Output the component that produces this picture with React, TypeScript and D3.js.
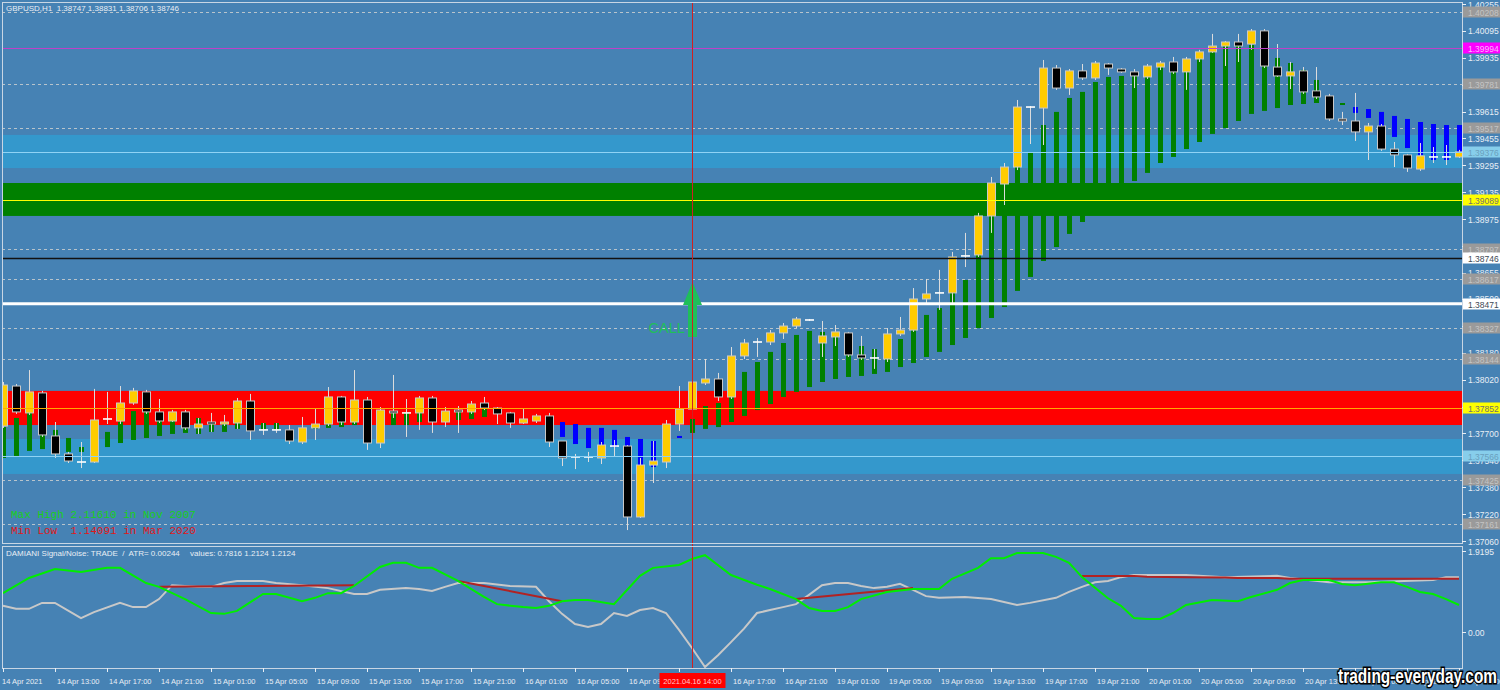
import React, { useEffect } from "react";
import * as d3 from "d3";

// ---------------- DATA ----------------
const open = [
  1.37744, 1.37982, 1.37822, 1.37941, 1.37685, 1.37578, 1.3753, 1.3753, 1.37786, 1.37774,
  1.37881, 1.37947, 1.37828, 1.37774, 1.37828, 1.37733, 1.37768, 1.37756, 1.37762, 1.37893,
  1.37721, 1.37721, 1.37721, 1.37649, 1.37733, 1.37756, 1.37917, 1.37768, 1.37899, 1.37643,
  1.37833, 1.37822, 1.37822, 1.37911, 1.37768, 1.37839, 1.37828, 1.37881, 1.37851, 1.37822,
  1.37762, 1.37774, 1.37804, 1.37655, 1.3756, 1.3756, 1.37554, 1.37625, 1.37625, 1.37203,
  1.37512, 1.3753, 1.37756, 1.37845, 1.38, 1.38024, 1.37917, 1.38161, 1.38244, 1.38244,
  1.38298, 1.38339, 1.38375, 1.38238, 1.38274, 1.38298, 1.38167, 1.38149, 1.38143, 1.38292,
  1.38315, 1.385, 1.38536, 1.38536, 1.38756, 1.38762, 1.38994, 1.39184, 1.39285, 1.39642,
  1.39636, 1.39874, 1.39755, 1.39857, 1.39815, 1.39898, 1.39868, 1.39851, 1.39821, 1.3988,
  1.3991, 1.39851, 1.39928, 1.3997, 1.40005, 1.40029, 1.40017, 1.40095, 1.3988, 1.39827,
  1.39857, 1.39738, 1.39708, 1.39571, 1.39559, 1.39494, 1.39529, 1.39392, 1.39357, 1.39273,
  1.39345, 1.39345, 1.39345,
];
const high = [
  1.38006, 1.37994, 1.38077, 1.37953, 1.37768, 1.3759, 1.37649, 1.37965, 1.37947, 1.37982,
  1.37971, 1.37959, 1.37905, 1.3784, 1.3784, 1.37792, 1.37822, 1.3781, 1.37911, 1.37935,
  1.37762, 1.37762, 1.3775, 1.37798, 1.37845, 1.37976, 1.37923, 1.38077, 1.37917, 1.37857,
  1.38048, 1.37905, 1.37923, 1.37923, 1.37857, 1.37863, 1.37893, 1.37917, 1.37857, 1.37828,
  1.37845, 1.37816, 1.37822, 1.37655, 1.37578, 1.3759, 1.37649, 1.37661, 1.37631, 1.37554,
  1.37655, 1.3778, 1.37982, 1.38018, 1.38143, 1.3806, 1.38214, 1.38262, 1.38268, 1.38315,
  1.38357, 1.38393, 1.38381, 1.38369, 1.38345, 1.38304, 1.3828, 1.38203, 1.38327, 1.38393,
  1.38565, 1.38619, 1.38673, 1.3878, 1.38893, 1.39012, 1.39226, 1.39309, 1.39684, 1.39648,
  1.39922, 1.39892, 1.39868, 1.39898, 1.39916, 1.39904, 1.39874, 1.39868, 1.39898, 1.39916,
  1.3994, 1.3994, 1.39982, 1.40077, 1.40035, 1.40077, 1.40106, 1.40106, 1.40017, 1.3991,
  1.3988, 1.3988, 1.3972, 1.39613, 1.39726, 1.39547, 1.39541, 1.39434, 1.39363, 1.39428,
  1.39404, 1.39416, 1.39387,
];
const low = [
  1.37733, 1.37816, 1.3781, 1.37679, 1.37554, 1.37524, 1.37494, 1.37524, 1.37756, 1.37756,
  1.3787, 1.37816, 1.37762, 1.37768, 1.37721, 1.37697, 1.37709, 1.37744, 1.37727, 1.37661,
  1.37691, 1.37703, 1.37637, 1.37637, 1.37661, 1.37744, 1.3775, 1.37756, 1.37602, 1.37613,
  1.37792, 1.37679, 1.37721, 1.37703, 1.37738, 1.37703, 1.37816, 1.37839, 1.37756, 1.37733,
  1.37756, 1.37762, 1.37619, 1.37506, 1.37488, 1.3753, 1.37518, 1.3756, 1.37125, 1.37197,
  1.37405, 1.37494, 1.37715, 1.37833, 1.37988, 1.37893, 1.37905, 1.38143, 1.38155, 1.38226,
  1.38262, 1.38327, 1.38369, 1.38155, 1.3822, 1.38155, 1.38137, 1.38084, 1.38125, 1.3828,
  1.38304, 1.38464, 1.38435, 1.38464, 1.3869, 1.3875, 1.38893, 1.39059, 1.39267, 1.39422,
  1.39416, 1.39744, 1.39714, 1.39803, 1.39803, 1.39833, 1.39845, 1.39755, 1.39809, 1.39862,
  1.39839, 1.39744, 1.3991, 1.39964, 1.39886, 1.3991, 1.39982, 1.39874, 1.39821, 1.39749,
  1.3972, 1.3969, 1.39559, 1.39535, 1.3944, 1.39327, 1.39381, 1.39285, 1.39256, 1.39262,
  1.39309, 1.39297, 1.39339,
];
const close = [
  1.37988, 1.37828, 1.37947, 1.37691, 1.37578, 1.37536, 1.3753, 1.3778, 1.37786, 1.37881,
  1.37953, 1.37828, 1.37774, 1.37828, 1.37733, 1.37756, 1.37756, 1.37768, 1.37893, 1.37715,
  1.37721, 1.37721, 1.37655, 1.37733, 1.37756, 1.37917, 1.37768, 1.37899, 1.37643, 1.37839,
  1.37822, 1.37822, 1.37911, 1.37768, 1.37833, 1.37828, 1.37875, 1.37851, 1.37816, 1.37762,
  1.37786, 1.37804, 1.37649, 1.37554, 1.3756, 1.3756, 1.37631, 1.37625, 1.37203, 1.37512,
  1.37536, 1.37756, 1.37845, 1.38006, 1.38024, 1.37917, 1.38161, 1.38238, 1.38244, 1.38298,
  1.38339, 1.38381, 1.38375, 1.3828, 1.38304, 1.38167, 1.38149, 1.38149, 1.38292, 1.38315,
  1.385, 1.3853, 1.38536, 1.3875, 1.38756, 1.38994, 1.3919, 1.39285, 1.39642, 1.39642,
  1.39874, 1.39755, 1.39857, 1.39815, 1.39904, 1.39874, 1.39851, 1.39827, 1.39886, 1.39904,
  1.39851, 1.39928, 1.3997, 1.40005, 1.40029, 1.40005, 1.40095, 1.39886, 1.39827, 1.39851,
  1.39732, 1.39702, 1.39571, 1.39559, 1.39494, 1.39529, 1.39392, 1.39357, 1.39279, 1.39351,
  1.39345, 1.39345, 1.39375,
];

// trend histogram behind candles (g = green, b = blue, "" = none)
const histColor = [
  "g","g","g","g","g","g","g","","g","g","g","g","g","g","g","g","g","g","g","",
  "g","g","","","g","g","g","g","","","g","g","g","","","g","g","g","","",
  "","","","b","b","b","b","b","b","b","b","","b","g","g","g","g","g","g","g",
  "g","g","g","g","g","g","g","g","g","g","g","g","g","g","g","g","g","g","g","g",
  "g","g","g","g","g","g","g","g","g","g","g","g","g","g","g","g","g","g","g","g",
  "g","g","","g","b","b","b","b","b","b","b","b","b",
];
const histTop = [
  1.37738, 1.37792, 1.37822, 1.37691, 1.37721, 1.37673, 1.37619, null, 1.37709, 1.37768,
  1.37833, 1.37828, 1.37774, 1.37774, 1.37733, 1.37792, 1.37756, 1.37756, 1.37762, null,
  1.37762, 1.37762, null, null, 1.37756, 1.37756, 1.37768, 1.37768, null, null,
  1.37822, 1.37822, 1.37822, null, null, 1.37828, 1.37828, 1.37851, null, null,
  null, null, null, 1.37768, 1.37756, 1.37733, 1.37733, 1.37721, 1.37679, 1.37667,
  1.37655, null, 1.37685, 1.37786, 1.37863, 1.37881, 1.37917, 1.38066, 1.38125, 1.38185,
  1.38238, 1.38286, 1.3831, 1.38304, 1.38274, 1.38167, 1.3822, 1.38202, 1.38143, 1.38262,
  1.38315, 1.38405, 1.38446, 1.38554, 1.38613, 1.38893, 1.38994, 1.39232, 1.39387, 1.39369,
  1.39535, 1.39613, 1.39696, 1.39732, 1.39791, 1.39821, 1.39827, 1.39833, 1.39821, 1.3988,
  1.39851, 1.39851, 1.3994, 1.3997, 1.40005, 1.40011, 1.40011, 1.39892, 1.39934, 1.39904,
  1.39863, 1.39803, null, 1.39666, 1.39642, 1.3963, 1.39613, 1.39589, 1.39571, 1.39553,
  1.39541, 1.39535, 1.39535,
];
const histBot = [
  1.37554, 1.37566, 1.37596, 1.37607, 1.37649, 1.3759, 1.3759, null, 1.37619, 1.37643,
  1.37661, 1.37673, 1.37685, 1.37697, 1.37703, 1.37697, 1.37709, 1.37709, 1.37727, null,
  1.37721, 1.37721, null, null, 1.37727, 1.37733, 1.37738, 1.3775, null, null,
  1.3775, 1.3775, 1.37768, null, null, 1.3778, 1.37786, 1.37798, null, null,
  null, null, null, 1.37679, 1.37637, 1.37613, 1.37602, 1.37619, 1.37619, 1.375,
  1.375, null, 1.37673, 1.37703, 1.37727, 1.37738, 1.37768, 1.37804, 1.37839, 1.37875,
  1.37917, 1.37947, 1.37976, 1.38006, 1.38024, 1.38036, 1.38042, 1.38054, 1.38066, 1.38095,
  1.38119, 1.38155, 1.38185, 1.38226, 1.38268, 1.38327, 1.38387, 1.38452, 1.38548, 1.38631,
  1.38726, 1.38809, 1.38887, 1.38958, 1.39089, 1.39119, 1.39149, 1.39202, 1.3925, 1.39309,
  1.39345, 1.39392, 1.39434, 1.39482, 1.39517, 1.39559, 1.39601, 1.39619, 1.39636, 1.39654,
  1.3966, 1.39666, null, 1.39654, 1.39607, 1.39577, 1.39523, 1.39464, 1.39398, 1.39357,
  1.39327, 1.39327, 1.39357,
];

const timeLabels = [
  "14 Apr 2021", "14 Apr 13:00", "14 Apr 17:00", "14 Apr 21:00", "15 Apr 01:00", "15 Apr 05:00",
  "15 Apr 09:00", "15 Apr 13:00", "15 Apr 17:00", "15 Apr 21:00", "16 Apr 01:00", "16 Apr 05:00",
  "16 Apr 09:00", "16 Apr 13:00", "16 Apr 17:00", "16 Apr 21:00", "19 Apr 01:00", "19 Apr 05:00",
  "19 Apr 09:00", "19 Apr 13:00", "19 Apr 17:00", "19 Apr 21:00", "20 Apr 01:00", "20 Apr 05:00",
  "20 Apr 09:00", "20 Apr 13:00", "20 Apr 17:00", "20 Apr 21:00", "21 Apr 01:00",
];
const priceTicks = [
  1.40255, 1.40095, 1.39935, 1.39775, 1.39615, 1.39455, 1.39295, 1.39135, 1.38975, 1.38815,
  1.38655, 1.385, 1.3834, 1.3818, 1.3802, 1.3786, 1.377, 1.3754, 1.3738, 1.3722, 1.3706,
];

// horizontal objects
const dashedLevels = [1.40208, 1.39781, 1.39517, 1.38797, 1.38617, 1.38327, 1.38144, 1.37425, 1.37161];
const blueBandTop = [1.39476, 1.37667];
const blueBandBottom = [1.39279, 1.37459];
const blueBandLine = [1.39376, 1.37566];
const greenBand = [1.3919, 1.38994];
const greenBandLine = 1.39089;
const redBand = [1.37953, 1.3775];
const redBandLine = 1.37852;
const magentaLevel = 1.39994;
const blackLevel = 1.38746;
const whiteLevel = 1.38471;
const signalBar = 53; // 2021.04.16 14:00

// DAMIANI Signal/Noise panel
const greenIdx = [0, 2, 4, 6, 8, 9, 11, 12, 14, 16, 17, 18, 20, 21, 23, 24, 25, 26, 27, 29, 30, 31, 32, 33, 35, 37, 38, 40, 41, 42, 43, 44, 45, 47, 49, 50, 52, 53, 54, 56, 58, 59, 61, 62, 63, 64, 65, 66, 68, 70, 72, 73, 75, 76, 77, 78, 80, 81, 82, 83, 84, 85, 86, 87, 88, 89, 90, 91, 93, 95, 96, 98, 99, 100, 102, 103, 104, 106, 107, 108, 109, 110, 111, 112];
const greenVal = [0.92, 1.28, 1.49, 1.42, 1.52, 1.52, 1.16, 1.07, 0.78, 0.45, 0.43, 0.5, 0.9, 0.9, 0.73, 0.81, 0.92, 0.92, 1.09, 1.54, 1.64, 1.64, 1.52, 1.52, 1.21, 0.83, 0.66, 0.59, 0.57, 0.62, 0.73, 0.76, 0.76, 0.66, 1.33, 1.52, 1.59, 1.73, 1.82, 1.35, 1.12, 1.02, 0.78, 0.57, 0.5, 0.5, 0.59, 0.78, 0.95, 1.02, 1.02, 1.26, 1.52, 1.75, 1.75, 1.87, 1.87, 1.78, 1.64, 1.3, 1.05, 0.8, 0.62, 0.33, 0.31, 0.31, 0.45, 0.64, 0.76, 0.73, 0.83, 1.0, 1.16, 1.23, 1.23, 1.14, 1.11, 1.18, 1.18, 1.07, 0.95, 0.9, 0.78, 0.64];
const grayIdx = [0, 1, 2, 3, 4, 6, 7, 9, 10, 11, 12, 13, 15, 16, 17, 18, 20, 21, 23, 25, 27, 28, 29, 31, 32, 33, 34, 35, 37, 39, 41, 42, 43, 44, 45, 46, 47, 48, 49, 50, 51, 52, 53, 54, 55, 56, 57, 58, 59, 60, 61, 62, 63, 64, 65, 66, 67, 68, 69, 70, 71, 72, 74, 76, 78, 79, 81, 82, 83, 84, 85, 86, 87, 91, 94, 98, 99, 102, 105, 110, 111, 112];
const grayVal = [0.62, 0.55, 0.55, 0.69, 0.69, 0.33, 0.47, 0.69, 0.59, 0.59, 0.78, 1.11, 1.07, 1.07, 1.16, 1.21, 1.21, 1.16, 1.11, 1.04, 0.9, 0.9, 1.0, 1.04, 1.02, 0.97, 1.07, 1.16, 1.16, 1.09, 1.07, 0.73, 0.43, 0.19, 0.12, 0.19, 0.45, 0.38, 0.52, 0.57, 0.45, 0.05, -0.38, -0.83, -0.55, -0.24, 0.08, 0.45, 0.52, 0.59, 0.66, 0.88, 1.11, 1.16, 1.16, 1.09, 1.04, 1.07, 1.14, 1.0, 0.85, 0.81, 0.83, 0.78, 0.64, 0.69, 0.81, 0.95, 1.07, 1.18, 1.21, 1.3, 1.35, 1.35, 1.3, 1.33, 1.28, 1.18, 1.18, 1.23, 1.3, 1.3];
const red1Idx = [12, 19, 27];
const red1Val = [1.07, 1.09, 1.11];
const red2Idx = [35, 43];
const red2Val = [1.21, 0.73];
const red3Idx = [61, 70];
const red3Val = [0.78, 1.04];
const red4Idx = [83, 87, 88, 91, 94, 95, 98, 99, 112];
const red4Val = [1.33, 1.33, 1.31, 1.3, 1.29, 1.28, 1.28, 1.26, 1.26];
const subTicks = [1.9195, 0];

// ---------------- LAYOUT ----------------
const W = 1500;
const H = 690;
const mainTop = 2, mainBottom = 543, plotLeft = 2, plotRight = 1462;
const subTop = 546, subBottom = 668;
const BG = "#4682b4";
const FG = "#e8eef4";
const FONT = "'Liberation Sans', Arial, sans-serif";
const ARROW = "#1fbf5a";

const x = d3.scaleLinear().domain([0, 112]).range([3, 1459]);
const y = d3.scaleLinear().domain([1.3706, 1.40255]).range([541, 4]);
const ys = d3.scaleLinear().domain([0, 1.9195]).range([632, 551]);

function seriesPath(idx: number[], val: number[]) {
  const line = d3.line<number>().x((_, k) => x(idx[k])).y((v) => ys(v));
  return line(val) || "";
}

function PriceLabel({ v, fill, color }: { v: number; fill: string; color: string }) {
  const yy = Math.round(y(v));
  return (
    <g>
      <rect x={plotRight + 1} y={yy - 5.5} width={W - plotRight - 1} height={11} fill={fill} />
      <text x={plotRight + 6} y={yy + 3.5} fontSize={8.5} fill={color} fontFamily={FONT}>
        {v.toFixed(5)}
      </text>
    </g>
  );
}

export default function App() {
  useEffect(() => {
    document.body.style.margin = "0";
  }, []);

  const candles = open.map((o, i) => {
    const c = close[i];
    const cx = Math.round(x(i)) + 0.5;
    const yo = y(o), yc = y(c);
    const top = Math.min(yo, yc), bot = Math.max(yo, yc);
    const bull = c > o;
    return (
      <g key={"c" + i}>
        <line x1={cx} x2={cx} y1={y(high[i])} y2={y(low[i])} stroke="#dcdcdc" strokeWidth={1} />
        {o === c ? (
          <line x1={cx - 4.5} x2={cx + 4.5} y1={yo} y2={yo} stroke="#ffffff" strokeWidth={1.6} />
        ) : (
          <rect
            x={cx - 4}
            y={top}
            width={8}
            height={Math.max(bot - top, 1.5)}
            fill={bull ? "#ffcc00" : "#000000"}
            stroke="#c8c8c8"
            strokeWidth={1}
          />
        )}
      </g>
    );
  });

  const hist = histColor.map((col, i) => {
    const t = histTop[i], b = histBot[i];
    if (!col || t === null || b === null) return null;
    const cx = Math.round(x(i)) + 0.5;
    return (
      <rect
        key={"h" + i}
        x={cx - 2.5}
        y={y(t)}
        width={5}
        height={Math.max(y(b) - y(t), 2)}
        fill={col === "g" ? "#008000" : "#0000ff"}
      />
    );
  });

  const tickIdx = timeLabels.map((_, k) => k * 4);
  const ax = Math.round(x(signalBar)) + 0.5;

  return (
    <svg
      width={W}
      height={H}
      style={{ display: "block", position: "absolute", left: 0, top: 0 }}
      xmlns="http://www.w3.org/2000/svg"
    >
      <defs>
        <clipPath id="mainClip">
          <rect x={plotLeft} y={mainTop} width={plotRight - plotLeft} height={mainBottom - mainTop} />
        </clipPath>
        <clipPath id="subClip">
          <rect x={plotLeft} y={subTop} width={plotRight - plotLeft} height={subBottom - subTop} />
        </clipPath>
      </defs>
      <rect x={0} y={0} width={W} height={H} fill={BG} />

      {/* ---------- main panel ---------- */}
      <g clipPath="url(#mainClip)">
        {blueBandTop.map((t, k) => (
          <rect key={"bb" + k} x={plotLeft} y={y(t)} width={plotRight - plotLeft} height={y(blueBandBottom[k]) - y(t)} fill="#3498cc" />
        ))}
        <rect x={plotLeft} y={y(greenBand[0])} width={plotRight - plotLeft} height={y(greenBand[1]) - y(greenBand[0])} fill="#008000" />
        <rect x={plotLeft} y={y(redBand[0])} width={plotRight - plotLeft} height={y(redBand[1]) - y(redBand[0])} fill="#ff0000" />

        {dashedLevels.map((v, k) => (
          <line key={"d" + k} x1={plotLeft} x2={plotRight} y1={Math.round(y(v)) + 0.5} y2={Math.round(y(v)) + 0.5} stroke="#b8c4cc" strokeWidth={1} strokeDasharray="3,3" />
        ))}

        {hist}
        {candles}

        {blueBandLine.map((v, k) => (
          <line key={"bl" + k} x1={plotLeft} x2={plotRight} y1={Math.round(y(v)) + 0.5} y2={Math.round(y(v)) + 0.5} stroke="#8fd3f5" strokeWidth={1.2} />
        ))}
        <line x1={plotLeft} x2={plotRight} y1={Math.round(y(greenBandLine)) + 0.5} y2={Math.round(y(greenBandLine)) + 0.5} stroke="#ffff00" strokeWidth={1} />
        <line x1={plotLeft} x2={plotRight} y1={Math.round(y(redBandLine)) + 0.5} y2={Math.round(y(redBandLine)) + 0.5} stroke="#ffaa00" strokeWidth={1.2} />
        <line x1={plotLeft} x2={plotRight} y1={Math.round(y(magentaLevel)) + 0.5} y2={Math.round(y(magentaLevel)) + 0.5} stroke="#c040c8" strokeWidth={1} />
        <line x1={plotLeft} x2={plotRight} y1={Math.round(y(blackLevel)) + 0.5} y2={Math.round(y(blackLevel)) + 0.5} stroke="#111111" strokeWidth={1.3} />
        <line x1={plotLeft} x2={plotRight} y1={y(whiteLevel)} y2={y(whiteLevel)} stroke="#ffffff" strokeWidth={3} />

        {/* CALL arrow */}
        <polygon
          fill={ARROW}
          points={[
            [ax, 282],
            [ax + 9.5, 305],
            [ax + 4.5, 305],
            [ax + 4.5, 337],
            [ax - 4.5, 337],
            [ax - 4.5, 305],
            [ax - 9.5, 305],
          ].map((p) => p.join(",")).join(" ")}
        />
        <text x={ax - 44} y={333} fontSize={14.5} fill={ARROW} fontFamily={FONT}>CALL</text>

        <text x={6} y={11} fontSize={8} fill={FG} fontFamily={FONT} style={{ whiteSpace: "pre" }}>
          {"GBPUSD,H1  1.38747 1.38831 1.38706 1.38746"}
        </text>
        <text x={11} y={518} fontSize={11} fill="#18d018" fontFamily="'Liberation Mono', 'DejaVu Sans Mono', monospace" style={{ whiteSpace: "pre" }}>
          {"Max High 2.11610 in Nov 2007"}
        </text>
        <text x={11} y={534} fontSize={11} fill="#e01818" fontFamily="'Liberation Mono', 'DejaVu Sans Mono', monospace" style={{ whiteSpace: "pre" }}>
          {"Min Low  1.14091 in Mar 2020"}
        </text>
      </g>

      {/* ---------- sub panel ---------- */}
      <g clipPath="url(#subClip)">
        <path d={seriesPath(grayIdx, grayVal)} fill="none" stroke="#c8c8c8" strokeWidth={2} />
        {[
          [red1Idx, red1Val],
          [red2Idx, red2Val],
          [red3Idx, red3Val],
          [red4Idx, red4Val],
        ].map(([ix, vv], k) => (
          <path key={"r" + k} d={seriesPath(ix as number[], vv as number[])} fill="none" stroke="#b22222" strokeWidth={2} />
        ))}
        <path d={seriesPath(greenIdx, greenVal)} fill="none" stroke="#00ee00" strokeWidth={2} />
        <text x={6} y={556} fontSize={8} fill={FG} fontFamily={FONT} style={{ whiteSpace: "pre" }}>
          {"DAMIANI Signal/Noise: TRADE  /  ATR= 0.00244"}
        </text>
        <text x={190} y={556} fontSize={8} fill={FG} fontFamily={FONT} style={{ whiteSpace: "pre" }}>
          {"values: 0.7816 1.2124 1.2124"}
        </text>
      </g>

      <line x1={ax} x2={ax} y1={mainTop} y2={subBottom} stroke="#d02020" strokeWidth={1} />

      <rect x={plotLeft + 0.5} y={mainTop + 0.5} width={plotRight - plotLeft} height={mainBottom - mainTop} fill="none" stroke="#c8d6e4" strokeWidth={1} />
      <rect x={plotLeft + 0.5} y={subTop + 0.5} width={plotRight - plotLeft} height={subBottom - subTop} fill="none" stroke="#c8d6e4" strokeWidth={1} />

      {/* right price axis */}
      {priceTicks.map((v, k) => (
        <g key={"pt" + k}>
          <line x1={plotRight} x2={plotRight + 4} y1={Math.round(y(v)) + 0.5} y2={Math.round(y(v)) + 0.5} stroke={FG} />
          <text x={plotRight + 6} y={y(v) + 3.5} fontSize={8.5} fill={FG} fontFamily={FONT}>{v.toFixed(5)}</text>
        </g>
      ))}
      {dashedLevels.map((v, k) => (
        <PriceLabel key={"dl" + k} v={v} fill="#9a9a9a" color="#c4c4c4" />
      ))}
      {blueBandLine.map((v, k) => (
        <PriceLabel key={"bll" + k} v={v} fill="#87ceeb" color="#6aa0bd" />
      ))}
      <PriceLabel v={greenBandLine} fill="#ffff00" color="#707070" />
      <PriceLabel v={redBandLine} fill="#ffff00" color="#707070" />
      <PriceLabel v={magentaLevel} fill="#ff00ff" color="#ffb4ff" />
      <PriceLabel v={blackLevel} fill="#ffffff" color="#404a55" />
      <PriceLabel v={whiteLevel} fill="#ffffff" color="#404a55" />

      {subTicks.map((v, k) => (
        <g key={"st" + k}>
          <line x1={plotRight} x2={plotRight + 4} y1={Math.round(ys(v)) + 0.5} y2={Math.round(ys(v)) + 0.5} stroke={FG} />
          <text x={plotRight + 6} y={ys(v) + 3.5} fontSize={8.5} fill={FG} fontFamily={FONT}>
            {k === 0 ? v.toFixed(4) : v.toFixed(2)}
          </text>
        </g>
      ))}

      {/* time axis */}
      {tickIdx.map((i, k) => (
        <g key={"tx" + k}>
          <line x1={Math.round(x(i)) + 0.5} x2={Math.round(x(i)) + 0.5} y1={subBottom} y2={subBottom + 4} stroke={FG} />
          <text x={k === 0 ? 2 : x(i) + 2} y={684} fontSize={7.5} fill={FG} fontFamily={FONT}>{timeLabels[k]}</text>
        </g>
      ))}
      <rect x={ax - 33} y={673} width={66} height={15} fill="#ff0000" />
      <text x={ax} y={684} fontSize={7.5} fill="#ffc8c8" fontFamily={FONT} textAnchor="middle">2021.04.16 14:00</text>

      {/* watermark */}
      <text
        x={1338}
        y={683}
        fontSize={20}
        fontWeight="bold"
        fontFamily={FONT}
        fill="#ffffff"
        stroke="#000000"
        strokeWidth={3}
        textLength={159}
        lengthAdjust="spacingAndGlyphs"
        style={{ paintOrder: "stroke" }}
      >
        trading-everyday.com
      </text>
    </svg>
  );
}
